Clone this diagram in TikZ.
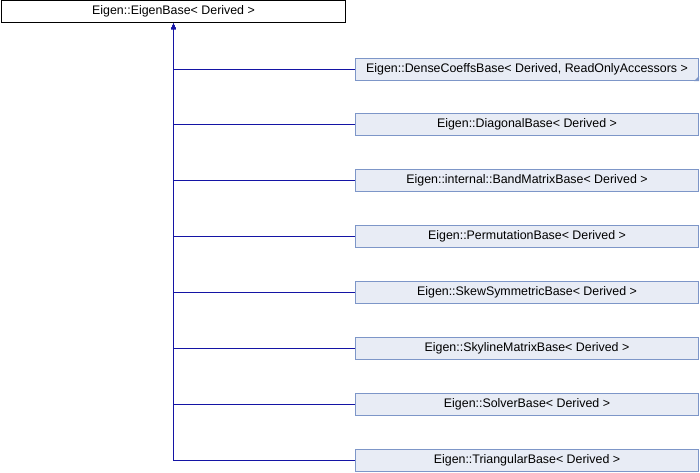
\documentclass[tikz,border=0pt]{standalone}
\usepackage{fontspec}
\setmainfont{Liberation Sans}
\usetikzlibrary{arrows.meta}

\definecolor{edgeblue}{RGB}{20,20,165}
\definecolor{boxfill}{RGB}{232,236,245}
\definecolor{boxline}{RGB}{125,150,200}

\begin{document}
\begin{tikzpicture}[x=1pt, y=-1pt,
        basebox/.style={draw=black, fill=white, line width=1pt,
            minimum width=344pt, minimum height=22pt, inner sep=0pt,
            font=\fontsize{12.4}{14}\selectfont},
        childbox/.style={basebox, draw=boxline, fill=boxfill, minimum width=343pt},
        inheritline/.style={edgeblue, line width=1pt}]

    \useasboundingbox (0,0) rectangle (700,472);

    \node[basebox] (base) at (173.5,11.5) {Eigen::EigenBase< Derived >};

    \foreach \y/\name [count=\i] in {
            69.5/{Eigen::DenseCoeffsBase< Derived, ReadOnlyAccessors >},
            124.5/{Eigen::DiagonalBase< Derived >},
            180.5/{Eigen::internal::BandMatrixBase< Derived >},
            236.5/{Eigen::PermutationBase< Derived >},
            292.5/{Eigen::SkewSymmetricBase< Derived >},
            348.5/{Eigen::SkylineMatrixBase< Derived >},
            404.5/{Eigen::SolverBase< Derived >},
            460.5/{Eigen::TriangularBase< Derived >}} {
            \node[childbox] (c\i) at (527,\y) {\name};
        }

    % inheritance connectors
    \foreach \i in {1,...,8} {
            \draw[inheritline, {Latex[length=6pt, width=5pt]}-] (base.south) |- (c\i.west);
        }

    % folded corner of the truncated box
    \fill[boxline] (c1.south east) -- ++(-5,0) -- ++(5,-5) -- cycle;
\end{tikzpicture}
\end{document}
